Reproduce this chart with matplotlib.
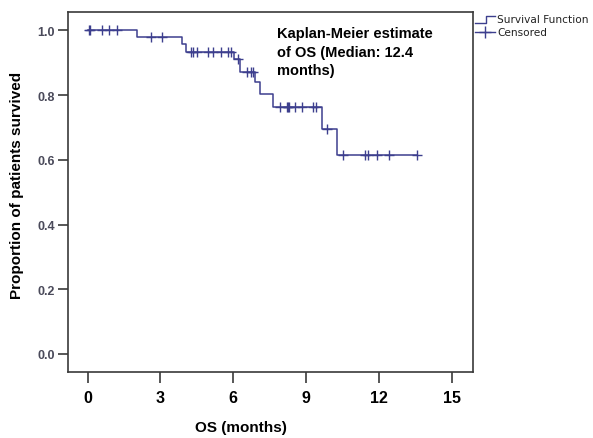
import numpy as np
import matplotlib
matplotlib.use("Agg")
import matplotlib.pyplot as plt
from matplotlib.lines import Line2D

# step curve: time of each drop (months) and survival after it
event_times = [0, 2.04, 3.89, 4.05, 6.04, 6.28, 6.91, 7.12, 7.65, 9.64, 10.28]
surv = [1.0, 0.979, 0.957, 0.934, 0.910, 0.872, 0.839, 0.803, 0.762, 0.694, 0.615]
# censored observations (months)
censor_times = [0.05, 0.1, 0.58, 0.89, 1.22, 2.60, 3.05,
                4.24, 4.35, 4.49, 4.97, 5.15, 5.49, 5.79, 5.90,
                6.21, 6.55, 6.72, 6.82,
                7.92, 8.22, 8.25, 8.29, 8.54, 8.82, 9.30, 9.41,
                9.85, 10.53, 11.43, 11.56, 11.91, 12.43, 13.58]

line_col = "#3d3f8e"
W, H = 593, 439

fig = plt.figure(figsize=(W / 100, H / 100), dpi=100)
ax = fig.add_axes([67.7 / W, 1 - 372.7 / H, (472.7 - 67.7) / W, (372.7 - 12.7) / H])

t_end = censor_times[-1]
xs = list(event_times) + [t_end]
ys = list(surv) + [surv[-1]]
ax.step(xs, ys, where="post", color=line_col, lw=1.1)

idx = np.searchsorted(event_times, censor_times, side="right") - 1
cy = np.array(surv)[idx]
ax.plot(censor_times, cy, ls="none", marker="+", ms=7, mew=1.0, color=line_col)

ax.set_xlim(-0.82, 15.86)
ax.set_ylim(-0.0547, 1.0575)
ax.set_xticks([0, 3, 6, 9, 12, 15])
ax.set_yticks([0.0, 0.2, 0.4, 0.6, 0.8, 1.0])
ax.set_yticklabels(["0.0", "0.2", "0.4", "0.6", "0.8", "1.0"])

for s in ax.spines.values():
    s.set_color("#3a3a3a")
    s.set_linewidth(1.2)
ax.tick_params(axis="x", length=8, width=1.2, color="#3a3a3a", pad=5,
               labelsize=11.5)
ax.tick_params(axis="y", length=7, width=1.2, color="#3a3a3a", pad=2,
               labelsize=9, labelcolor="#4a4a5a")
for lab in ax.get_xticklabels():
    lab.set_fontweight("bold")
    lab.set_family("Liberation Sans")
for lab in ax.get_yticklabels():
    lab.set_fontweight("bold")
    lab.set_family("Liberation Sans")

ax.set_xlabel("OS (months)", fontsize=11, fontweight="bold", family="Liberation Sans")
ax.xaxis.set_label_coords((240.8 - 67.7) / (472.7 - 67.7), -(421 - 372.7) / 360)
ax.set_ylabel("Proportion of patients survived", fontsize=11, fontweight="bold",
              family="Liberation Sans")
ax.yaxis.set_label_coords(-(67.7 - 24) / 405, (372.7 - 185) / 360)

ax.text(277 / W, 1 - 27 / H, "Kaplan-Meier estimate\nof OS (Median: 12.4\nmonths)",
        transform=fig.transFigure, ha="left", va="top", fontsize=10.5,
        fontweight="bold", family="Liberation Sans", linespacing=1.42)

# legend outside the axes, top right
def fx(p):
    return p / W

def fy(p):
    return 1 - p / H

fig.add_artist(Line2D([fx(475), fx(486), fx(486), fx(495)],
                      [fy(24), fy(24), fy(17), fy(17)],
                      color=line_col, lw=1.0))
fig.add_artist(Line2D([fx(475), fx(495)], [fy(33), fy(33)], color=line_col, lw=1.0))
fig.add_artist(Line2D([fx(485)], [fy(33)], marker="+", ms=9, mew=1.0, color=line_col))
fig.text(fx(497), fy(20), "Survival Function", fontsize=7.6, va="center", ha="left",
         family="DejaVu Sans", color="#222222")
fig.text(fx(497), fy(33), "Censored", fontsize=7.6, va="center", ha="left",
         family="DejaVu Sans", color="#222222")

fig.savefig("out.png", dpi=100)
